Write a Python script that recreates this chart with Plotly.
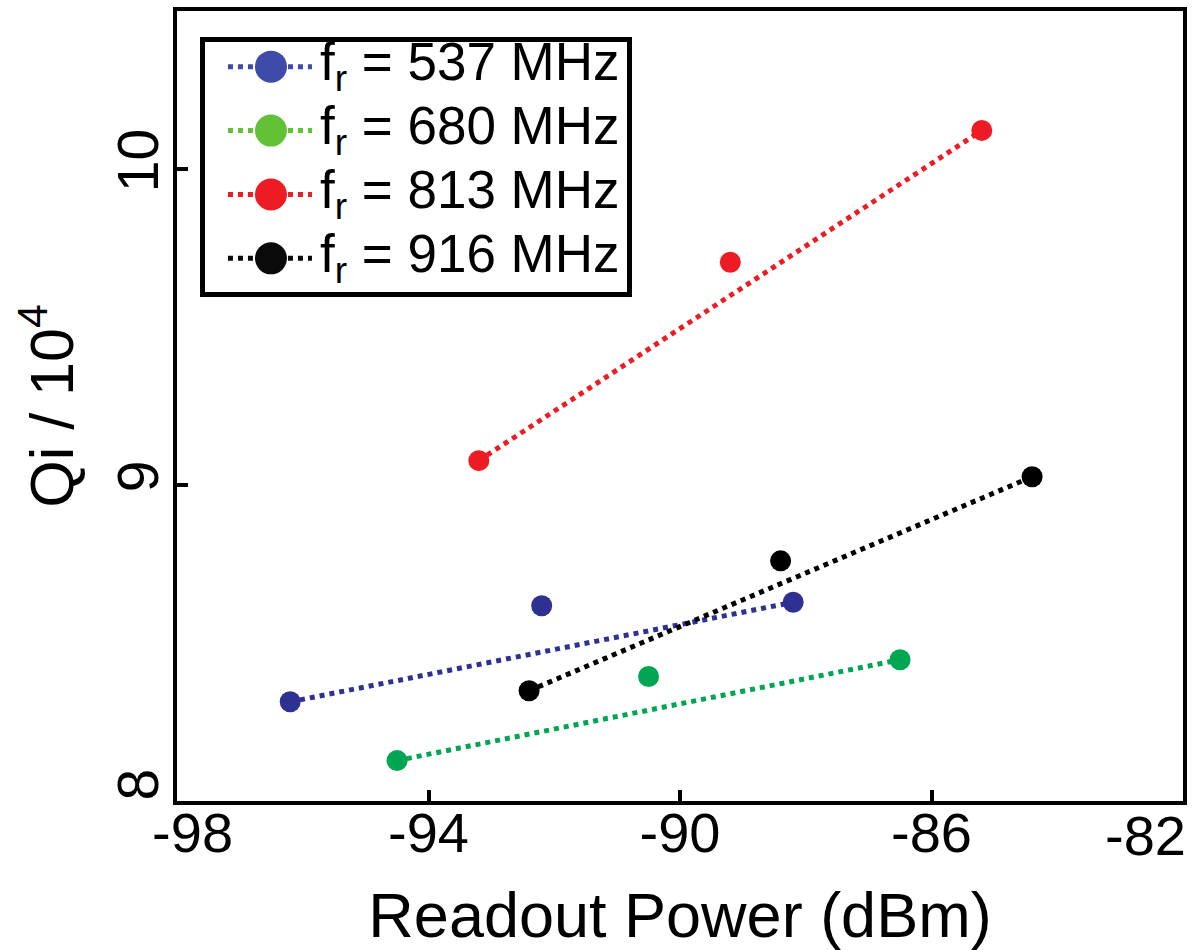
import plotly.graph_objects as go

# Resonator internal quality factor vs readout power
freqs_mhz = [537, 680, 813, 916]

power_537 = [-96.2, -92.2, -88.2]
qi_537 = [8.314, 8.618, 8.629]

power_680 = [-94.5, -90.5, -86.5]
qi_680 = [8.128, 8.394, 8.447]

power_813 = [-93.2, -89.2, -85.2]
qi_813 = [9.077, 9.705, 10.122]

power_916 = [-92.4, -88.4, -84.4]
qi_916 = [8.349, 8.760, 9.026]

x_ticks = [-98, -94, -90, -86, -82]
x_tick_labels = ["-98", "-94", "-90", "-86", "-82"]
y_ticks = [8, 9, 10]
y_tick_labels = ["8", "9", "10"]

series = [
    (power_537, qi_537),
    (power_680, qi_680),
    (power_813, qi_813),
    (power_916, qi_916),
]
plot_colors = ["#2e3192", "#00a651", "#ed1c24", "#000000"]
key_colors = ["#3e4ba8", "#62c134", "#ed1c24", "#0a0a0a"]

FONT = "Liberation Sans, Arial, sans-serif"
NBSP = "\u00a0"
TICK_SIZE = 56

fig = go.Figure()

# trend segment from the first to the last point, then the measured points
for (px, qy), col in zip(series, plot_colors):
    fig.add_trace(go.Scatter(
        x=[px[0], px[-1]], y=[qy[0], qy[-1]], mode="lines",
        line=dict(color=col, width=5, dash="dot"),
        showlegend=False, hoverinfo="skip",
    ))
for (px, qy), col in zip(series, plot_colors):
    fig.add_trace(go.Scatter(
        x=px, y=qy, mode="markers",
        marker=dict(color=col, size=21, line=dict(width=0)),
        showlegend=False,
    ))

# boxed key drawn on its own small axes
for i, (f, col) in enumerate(zip(freqs_mhz, key_colors)):
    fig.add_trace(go.Scatter(
        x=[23, 107], y=[i, i], mode="lines", xaxis="x2", yaxis="y2",
        line=dict(color=col, width=5, dash="dot"),
        showlegend=False, hoverinfo="skip",
    ))
    fig.add_trace(go.Scatter(
        x=[66], y=[i], mode="markers", xaxis="x2", yaxis="y2",
        marker=dict(color=col, size=32, line=dict(width=0)),
        showlegend=False, hoverinfo="skip",
    ))
    fig.add_trace(go.Scatter(
        x=[115], y=[i], mode="text", xaxis="x2", yaxis="y2",
        text=[f"f<sub>r</sub> = {f} MHz"], textposition="middle right",
        textfont=dict(family=FONT, size=53, color="black"),
        showlegend=False, hoverinfo="skip",
    ))

# corner labels are nudged inward so they stay inside the frame;
# the last x label is right-aligned to the frame edge as an annotation
x_text = list(x_tick_labels)
x_text[0] = NBSP * 2 + x_text[0]
x_text[-1] = ""
y_text = list(y_tick_labels)
y_text[0] = NBSP + y_text[0]

fig.add_annotation(
    x=x_ticks[-1], xref="x", xanchor="right", xshift=5,
    y=0, yref="paper", yanchor="top", yshift=-1,
    text=x_tick_labels[-1], showarrow=False,
    font=dict(size=TICK_SIZE, family=FONT, color="black"),
)

fig.update_layout(
    width=1194, height=950,
    margin=dict(l=177, r=11, t=11, b=149),
    paper_bgcolor="white", plot_bgcolor="white",
    font=dict(family=FONT, color="black"),
    showlegend=False,
    xaxis=dict(
        range=[-98, -82], tickvals=x_ticks, ticktext=x_text, automargin=False,
        tickangle=0, ticklabelstandoff=-20,
        ticks="inside", ticklen=11, tickwidth=4, tickcolor="black",
        tickfont=dict(size=TICK_SIZE, family=FONT),
        showline=True, linewidth=4, linecolor="black", mirror=True,
        showgrid=False, zeroline=False,
        title=dict(text="Readout Power (dBm)", font=dict(size=63, family=FONT), standoff=33),
    ),
    yaxis=dict(
        range=[8, 10.5], tickvals=y_ticks, ticktext=y_text, automargin=False,
        tickangle=-90, ticklabelstandoff=-8,
        ticks="inside", ticklen=11, tickwidth=4, tickcolor="black",
        tickfont=dict(size=57, family=FONT),
        showline=True, linewidth=4, linecolor="black", mirror=True,
        showgrid=False, zeroline=False,
        title=dict(text="Qi / 10<sup>4</sup>", font=dict(size=61, family=FONT), standoff=14),
    ),
    xaxis2=dict(
        domain=[0.0278, 0.4473], anchor="y2", range=[0, 422], automargin=False,
        showline=True, linewidth=5, linecolor="black", mirror=True,
        showticklabels=False, ticks="", showgrid=False, zeroline=False,
        fixedrange=True,
    ),
    yaxis2=dict(
        domain=[0.6443, 0.9608], anchor="x2", range=[3.527, -0.387], automargin=False,
        showline=True, linewidth=5, linecolor="black", mirror=True,
        showticklabels=False, ticks="", showgrid=False, zeroline=False,
        fixedrange=True,
    ),
)

fig.write_html("out.html")
